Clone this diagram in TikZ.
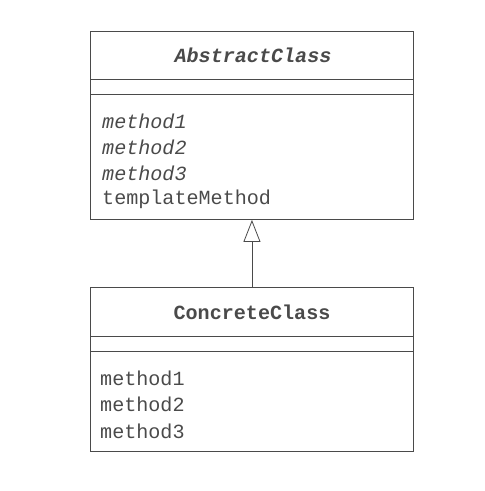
\documentclass[tikz,border=0pt]{standalone}
\usepackage{fontspec}
\setmonofont{Liberation Mono}
\usetikzlibrary{arrows.meta}
\definecolor{ink}{HTML}{4A4A4A}
\tikzset{
  x=1pt, y=1pt,
  classbox/.style={draw=ink, line width=0.9pt, minimum width=323pt, anchor=north west, inner sep=0pt},
  divider/.style={draw=ink, line width=0.8pt},
  txt/.style={text=ink, font=\fontsize{20.1}{26}\selectfont\ttfamily, anchor=west, inner sep=0pt},
  title/.style={text=ink, font=\fontsize{20.1}{26}\selectfont\ttfamily\bfseries, inner sep=0pt},
  inherit/.style={draw=ink, line width=0.8pt, -{Triangle[open, length=22pt, width=17pt]}}
}
\begin{document}
\begin{tikzpicture}
\useasboundingbox (0,0) rectangle (485,-491);
% AbstractClass
\node[classbox, minimum height=188pt] (A) at (90,-31) {};
\coordinate (a1l) at (90,-79); \coordinate (a1r) at (413,-79);
\coordinate (a2l) at (90,-94); \coordinate (a2r) at (413,-94);
\draw[divider] (a1l) -- (a1r);
\draw[divider] (a2l) -- (a2r);
\node[title] (At) at (253,-55) {\itshape AbstractClass};
\node[txt] (am1) at (102,-121) {\itshape method1};
\node[txt] (am2) at (102,-147) {\itshape method2};
\node[txt] (am3) at (102,-173) {\itshape method3};
\node[txt] (atm) at (102,-199) {templateMethod};
% ConcreteClass
\node[classbox, minimum height=164pt] (C) at (90,-287) {};
\coordinate (c1l) at (90,-336); \coordinate (c1r) at (413,-336);
\coordinate (c2l) at (90,-351); \coordinate (c2r) at (413,-351);
\draw[divider] (c1l) -- (c1r);
\draw[divider] (c2l) -- (c2r);
\node[title] (Ct) at (252,-312) {ConcreteClass};
\node[txt] (cm1) at (100,-378) {method1};
\node[txt] (cm2) at (100,-404) {method2};
\node[txt] (cm3) at (100,-431) {method3};
% inheritance
\draw[inherit] (C.north) -- (A.south);
\end{tikzpicture}
\end{document}
